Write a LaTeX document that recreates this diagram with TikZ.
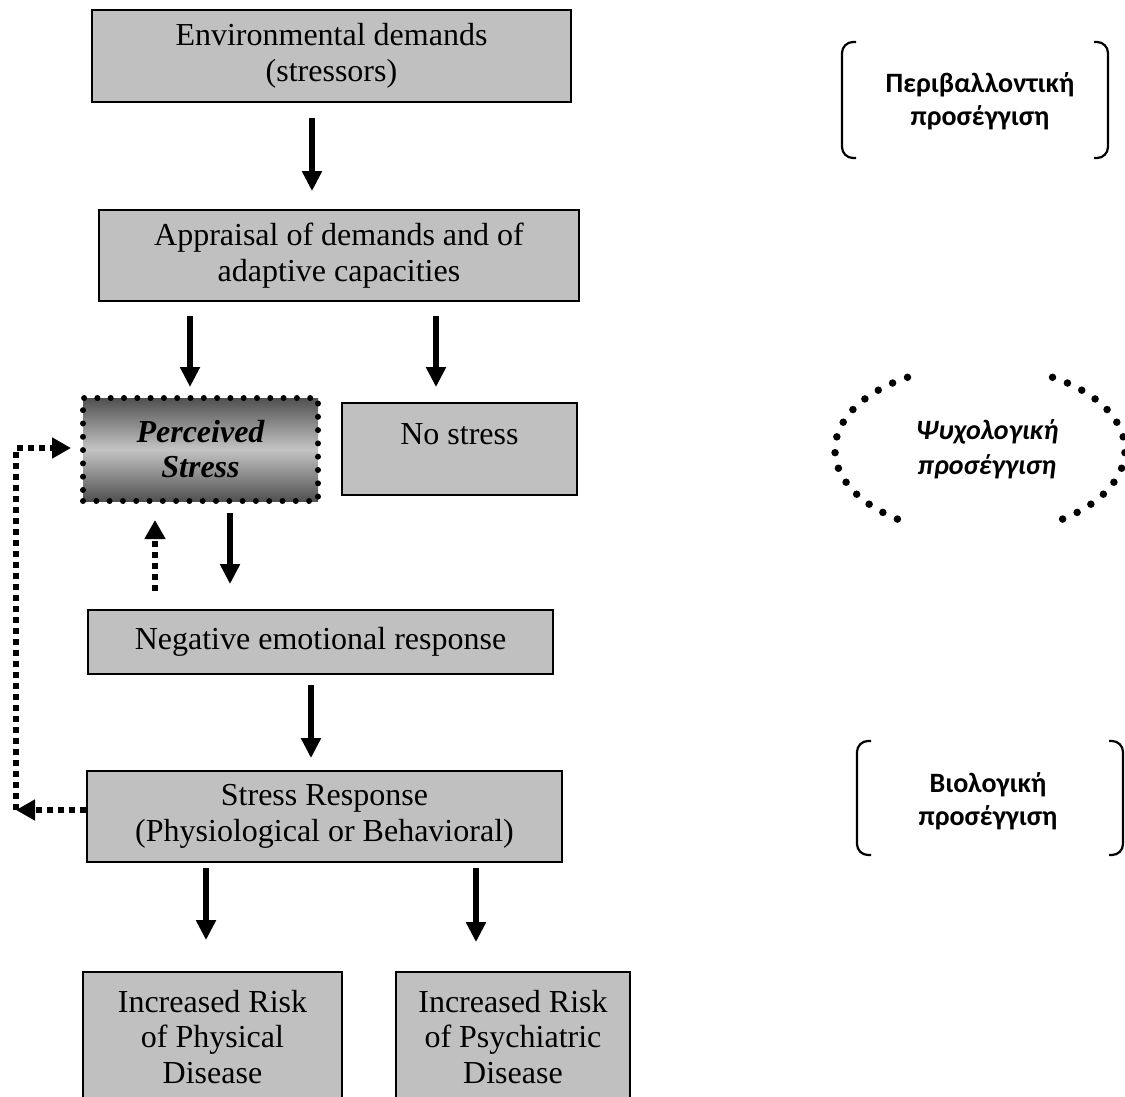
\documentclass[tikz,border=0pt]{standalone}
\usepackage{fontspec}
\setmainfont{Liberation Serif}
\newfontfamily\grkfont{Carlito}
\usetikzlibrary{arrows.meta,calc}
\definecolor{boxgray}{HTML}{C0C0C0}
\definecolor{darkshade}{HTML}{505050}
\definecolor{lightshade}{HTML}{C4C4C4}
\tikzset{
  box/.style={draw=black, line width=1.8pt, fill=boxgray, align=center, inner sep=0pt,
    font=\fontsize{32}{35.5}\selectfont},
  percbox/.style={draw=black, line width=6pt, line cap=round, dash pattern=on 0pt off 13.3pt,
    top color=darkshade, bottom color=darkshade, middle color=lightshade,
    align=center, inner sep=0pt, font=\fontsize{32}{35}\selectfont\bfseries\itshape},
  arr/.style={line width=5.5pt, -{Triangle[length=20pt,width=19pt]}},
  dotline/.style={line width=6pt, dash pattern=on 6pt off 5pt},
  dotarr/.style={dotline, -{Triangle[length=19pt,width=20pt]}},
  grklbl/.style={font=\grkfont\bfseries\fontsize{28}{33}\selectfont, align=center},
  grkital/.style={font=\grkfont\bfseries\itshape\fontsize{28}{35}\selectfont, align=center},
  bracket/.style={line width=2.2pt, rounded corners=11pt},
  ovaldots/.style={line width=7.5pt, line cap=round, dash pattern=on 0pt off 16pt},
}
\begin{document}
\begin{tikzpicture}[x=1pt,y=-1pt]
\useasboundingbox (0,0) rectangle (1125,1097);
\clip (0,0) rectangle (1125,1097);

% main flow boxes
\node[box, minimum width=479pt, minimum height=92pt] (env) at (331.5,56) {Environmental demands\\(stressors)};
\node[box, minimum width=480pt, minimum height=91pt] (appr) at (339,255.5) {Appraisal of demands and of\\adaptive capacities};
\node[percbox, minimum width=235pt, minimum height=103pt] (perc) at (200.5,449.5) {Perceived\\Stress};
\node[box, minimum width=235pt, minimum height=92pt, text height=24pt, text depth=34pt] (nost) at (459.5,449) {No stress};
\node[box, minimum width=465pt, minimum height=64pt] (neg) at (320.5,642) {Negative emotional response};
\node[box, minimum width=475pt, minimum height=91pt] (sr) at (324.5,816.5) {Stress Response\\(Physiological or Behavioral)};
\node[box, minimum width=259pt, minimum height=130pt] (phys) at (212.5,1037) {Increased Risk\\of Physical\\Disease};
\node[box, minimum width=234pt, minimum height=130pt] (psy) at (513,1037) {Increased Risk\\of Psychiatric\\Disease};

% solid arrows
\draw[arr] ($(env.south)+(-19.5,15)$) -- ($(appr.north)+(-27,-18)$);
\draw[arr] ($(appr.south)+(-149,14)$) -- ($(perc.north)+(-10.5,-8)$);
\draw[arr] ($(appr.south)+(97,14)$) -- ($(nost.north)+(-23.5,-15)$);
\draw[arr] ($(perc.south)+(29.5,9)$) -- ($(neg.north)+(-90.5,-25)$);
\draw[arr] ($(neg.south)+(-9.5,10)$) -- ($(sr.north)+(-13.5,-12)$);
\draw[arr] ($(sr.south)+(-118.5,5)$) -- ($(phys.north)+(-6.5,-31)$);
\draw[arr] ($(sr.south)+(151.5,5)$) -- ($(psy.north)+(-37,-29)$);

% dotted feedback arrows
\draw[dotarr] ($(neg.north)+(-165.5,-18)$) -- ($(perc.south)+(-45.5,16)$);
\coordinate (loopb) at (16,810);
\coordinate (loopt) at (16,448);
\draw[dotarr] ($(sr.west)+(0,-6.5)$) -- (loopb);
\draw[dotarr] (loopb) -- (loopt) -- ($(perc.west)+(-9,-1.5)$);

% right-hand labels
\node[grklbl] (envlbl) at (980,101.5) {Περιβαλλοντική\\προσέγγιση};
\draw[bracket] (856,42) -- (842,42) -- (842,158) -- (856,158);
\draw[bracket] (1094,42) -- (1108,42) -- (1108,158) -- (1094,158);

\node[grkital] (psylbl) at (987,449.5) {Ψυχολογική\\προσέγγιση};
\draw[ovaldots] (907.5,377.3) arc[start angle=120, end angle=240, x radius=145pt, y radius=84pt];
\draw[ovaldots] (1052.5,377.3) arc[start angle=60, end angle=-60, x radius=145pt, y radius=84pt];

\node[grklbl] (biolbl) at (988,801.5) {Βιολογική\\προσέγγιση};
\draw[bracket] (871,741) -- (857,741) -- (857,855) -- (871,855);
\draw[bracket] (1109,741) -- (1123,741) -- (1123,855) -- (1109,855);
\end{tikzpicture}
\end{document}
